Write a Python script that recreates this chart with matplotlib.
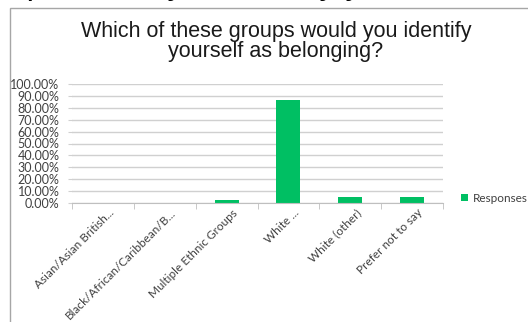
import matplotlib.pyplot as plt
from matplotlib.patches import Rectangle
from matplotlib.ticker import FuncFormatter, MultipleLocator
from matplotlib.transforms import ScaledTranslation

categories = ["Asian/Asian British...", "Black/African/Caribbean/B...",
              "Multiple Ethnic Groups", "White ...", "White (other)",
              "Prefer not to say"]
responses = [0.0, 0.0, 2.70, 86.49, 5.41, 5.41]
series_name = "Responses"
title_lines = ["Which of these groups would you identify",
               "yourself as belonging?"]

W, H = 528, 322
fig = plt.figure(figsize=(W / 100, H / 100), dpi=100)
fig.patch.set_facecolor("white")

# chart border (runs off the right and bottom edge)
fig.add_artist(Rectangle((10 / W, -0.1), 1.2, (H - 8) / H + 0.1,
                         transform=fig.transFigure, fill=False,
                         edgecolor="#a6a6a6", linewidth=1.0))

# tail of the previous line of text above the chart
fig.text(-40 / W, (H + 6) / H, "groups would you identify yourself as belonging",
         fontsize=24, family="Liberation Sans", va="baseline", ha="left")

fig.text(276 / W, 1 - 37.5 / H, title_lines[0], fontsize=15.5,
         family="Liberation Sans", ha="center", va="baseline", color="#1a1a1a")
fig.text(276 / W, 1 - 57 / H, title_lines[1], fontsize=15.5,
         family="Liberation Sans", ha="center", va="baseline", color="#1a1a1a")

ax = fig.add_axes([72 / W, 1 - 203 / H, (443 - 72) / W, (203 - 84) / H])
x = range(len(categories))
ax.bar(x, responses, width=0.39, color="#00bf63", label=series_name, zorder=3)

ax.set_xlim(-0.5, len(categories) - 0.5)
ax.set_ylim(0, 100)
ax.yaxis.set_major_locator(MultipleLocator(10))
ax.yaxis.set_major_formatter(FuncFormatter(lambda v, p: f"{v:.2f}%"))
ax.grid(axis="y", color="#d0d0d0", linewidth=1.0, zorder=0)

for s in ["top", "right", "left"]:
    ax.spines[s].set_visible(False)
ax.spines["bottom"].set_color("#bfbfbf")
ax.spines["bottom"].set_zorder(4)

ax.tick_params(axis="y", length=3, color="#d0d0d0", labelsize=9,
               labelcolor="#404040", pad=6)
ax.set_xticks([i + 0.5 for i in range(-1, len(categories))], minor=True)
ax.set_xticks(list(x))
ax.set_xticklabels(categories, rotation=45, ha="right", va="top",
                   rotation_mode="anchor", fontsize=8.5, color="#404040")
ax.tick_params(axis="x", which="major", length=0, pad=3)
ax.tick_params(axis="x", which="minor", length=4, color="#bfbfbf")
shift = ScaledTranslation(5 / 100, 0, fig.dpi_scale_trans)
for lbl in ax.get_xticklabels():
    lbl.set_transform(lbl.get_transform() + shift)
for lbl in ax.get_xticklabels() + ax.get_yticklabels():
    lbl.set_family("Lato")

leg = fig.legend(loc="center left", bbox_to_anchor=(450 / W, 1 - 198 / H),
                 frameon=False, handlelength=0.6, handleheight=0.6,
                 handletextpad=0.4, prop={"family": "Lato", "size": 8.5})
for t in leg.get_texts():
    t.set_color("#404040")

fig.savefig("out.png", dpi=100)
